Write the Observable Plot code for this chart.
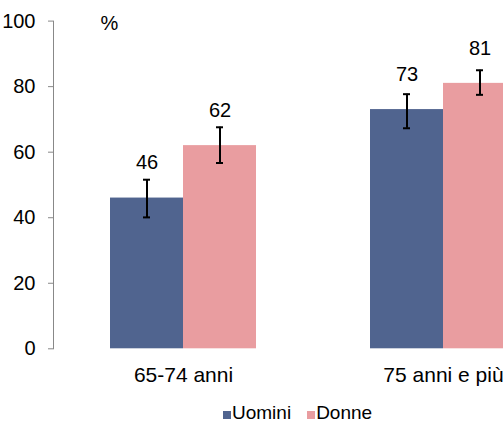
<!DOCTYPE html>
<html>
<head>
<meta charset="utf-8">
<script src="https://cdn.jsdelivr.net/npm/d3@7"></script>
<script src="https://cdn.jsdelivr.net/npm/@observablehq/plot@0.6"></script>
<style>
  html, body { margin: 0; padding: 0; background: white; overflow: hidden; }
  #chart { position: relative; width: 503px; height: 422px; font-family: "Liberation Sans", Arial, sans-serif; }
  #legend { display: flex; align-items: center; padding-left: 223px; margin-top: 2px; height: 22px; font-size: 19px; color: #000; }
  .sw { display: inline-block; width: 8px; height: 8px; margin-right: 1px; margin-top: 4px; }
  .item { display: flex; align-items: center; margin-right: 16px; }
</style>
</head>
<body>
<div id="chart"></div>
<script>
const categories = ["65-74 anni", "75 anni e più"];
const series = ["Uomini", "Donne"];
const uomini = [46, 73];
const donne = [62, 81];
const uominiLow = [40.1, 67.3];
const uominiHigh = [51.6, 77.7];
const donneLow = [56.7, 77.5];
const donneHigh = [67.6, 85];
const yTicks = [0, 20, 40, 60, 80, 100];
const colors = ["#50648F", "#E99DA0"];

const data = categories.flatMap((c, i) => [
  {cat: c, sex: series[0], value: uomini[i], lo: uominiLow[i], hi: uominiHigh[i]},
  {cat: c, sex: series[1], value: donne[i], lo: donneLow[i], hi: donneHigh[i]}
]);

const plot = Plot.plot({
  width: 503,
  height: 400,
  marginLeft: 53,
  marginRight: -70,
  marginTop: 20.6,
  marginBottom: 51.7,
  style: {fontFamily: "'Liberation Sans', Arial, sans-serif", fontSize: "20px", color: "#000", background: "white", overflow: "hidden"},
  fx: {domain: categories, paddingInner: 0, paddingOuter: 0, axis: null},
  x: {domain: series, paddingInner: 0, paddingOuter: 0.757, axis: null},
  y: {domain: [0, 100], axis: null},
  color: {domain: series, range: colors},
  marks: [
    Plot.barY(data, {fx: "cat", x: "sex", y: "value", fill: "sex"}),
    Plot.ruleX(data, {fx: "cat", x: "sex", y1: "lo", y2: "hi", stroke: "#000", strokeWidth: 2}),
    Plot.tickY(data, {fx: "cat", x: "sex", y: "lo", stroke: "#000", strokeWidth: 2, insetLeft: 33, insetRight: 33}),
    Plot.tickY(data, {fx: "cat", x: "sex", y: "hi", stroke: "#000", strokeWidth: 2, insetLeft: 33, insetRight: 33}),
    Plot.text(data, {fx: "cat", x: "sex", y: "value", text: d => String(d.value), dy: -35, fontSize: 20, fill: "#000"}),
    Plot.text(["%"], {fx: [categories[0]], frameAnchor: "top-left", dx: 56, dy: 2, textAnchor: "middle", lineAnchor: "middle", fontSize: 20, fill: "#000"}),
    Plot.frame({anchor: "left", facetAnchor: "left", stroke: "#888"}),
    Plot.axisY({ticks: yTicks, tickSize: 5, tickPadding: 13, stroke: "#888", fill: "#000", label: null, fontSize: 20}),
    Plot.axisFx({anchor: "bottom", tickSize: 0, tickPadding: 18, label: null, fontSize: 21, fill: "#000"})
  ]
});

const chart = document.getElementById("chart");
chart.appendChild(plot);

const color = plot.scale("color");
const legend = document.createElement("div");
legend.id = "legend";
color.domain.forEach((name, i) => {
  const item = document.createElement("div");
  item.className = "item";
  const sw = document.createElement("span");
  sw.className = "sw";
  sw.style.background = color.range[i];
  const label = document.createElement("span");
  label.textContent = name;
  item.appendChild(sw);
  item.appendChild(label);
  legend.appendChild(item);
});
chart.appendChild(legend);
</script>
</body>
</html>
